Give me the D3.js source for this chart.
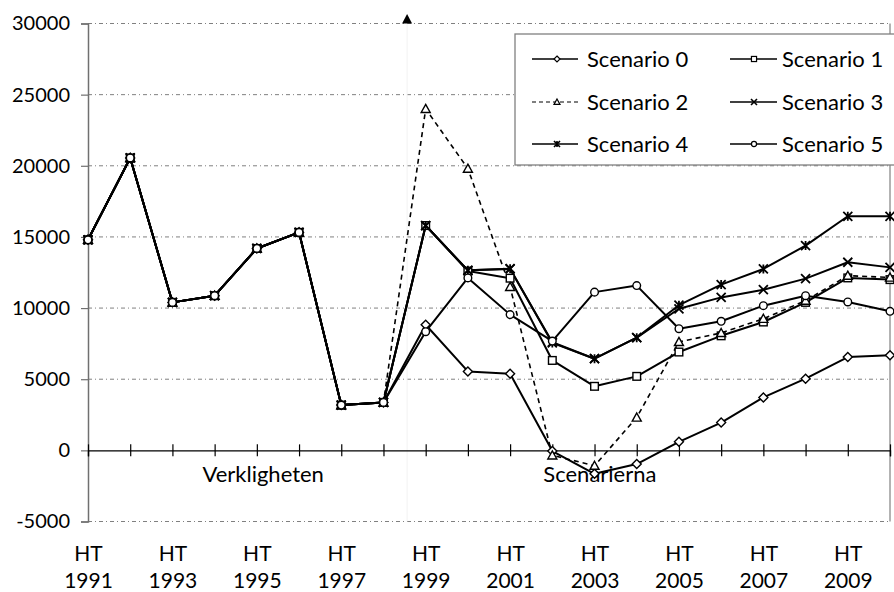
<!DOCTYPE html>
<html>
<head>
<meta charset="utf-8">
<script src="https://cdn.jsdelivr.net/npm/d3@7"></script>
<style>
  body { margin: 0; background: #fff; }
  text { font-family: Lato, "Open Sans", sans-serif; fill: #000; }
</style>
</head>
<body>
<svg id="chart" width="894" height="592"></svg>
<script>
// ---------- data ----------
const categories = ["HT 1991","HT 1992","HT 1993","HT 1994","HT 1995","HT 1996","HT 1997","HT 1998","HT 1999","HT 2000",
                    "HT 2001","HT 2002","HT 2003","HT 2004","HT 2005","HT 2006","HT 2007","HT 2008","HT 2009","HT 2010"];
const labelledCategories = ["HT 1991","HT 1993","HT 1995","HT 1997","HT 1999","HT 2001","HT 2003","HT 2005","HT 2007","HT 2009"];
const yTicks = [-5000, 0, 5000, 10000, 15000, 20000, 25000, 30000];

const seriesNames = ["Scenario 0","Scenario 1","Scenario 2","Scenario 3","Scenario 4","Scenario 5"];
const scenario0 = [14800,20550,10400,10870,14190,15320,3180,3370, 8830,5550,5390,-50,-1650,-960,600,1950,3720,5040,6560,6680];
const scenario1 = [14800,20550,10400,10870,14190,15320,3180,3370, 15800,12600,12100,6320,4500,5200,6910,8050,9020,10400,12120,12000];
const scenario2 = [14800,20550,10400,10870,14190,15320,3180,3370, 24000,19800,11490,-350,-1080,2310,7620,8250,9250,10520,12280,12150];
const scenario3 = [14800,20550,10400,10870,14190,15320,3180,3370, 15800,12650,12750,7600,6440,7920,9950,10750,11290,12070,13220,12860];
const scenario4 = [14800,20550,10400,10870,14190,15320,3180,3370, 15800,12650,12770,7550,6440,7920,10200,11650,12750,14390,16450,16450];
const scenario5 = [14800,20550,10400,10870,14190,15320,3180,3370, 8340,12120,9540,7680,11120,11580,8550,9070,10170,10870,10430,9770];
const allSeries = [scenario0, scenario1, scenario2, scenario3, scenario4, scenario5];
const markerTypes = ["diamond","square","triangle","x","asterisk","circle"];
const dashed = [false,false,true,false,false,false];

const annotations = [
  {text: "Verkligheten", cat: "HT 1993", dx: 30, value: -2200},
  {text: "Scenarierna", cat: "HT 2002", dx: -9, value: -2200}
];
const dividerBetween = ["HT 1998","HT 1999"];

// ---------- layout ----------
const svg = d3.select("#chart");
const pLeft = 88, pRight = 890, pTop = 23.5, pBottom = 521.5;
const x = d3.scalePoint().domain(categories).range([pLeft, pRight]);
const y = d3.scaleLinear().domain([-5000, 30000]).range([pBottom, pTop]);

// gridlines
svg.append("g").selectAll("line")
  .data(yTicks.filter(v => v !== 0))
  .join("line")
  .attr("x1", pLeft).attr("x2", pRight)
  .attr("y1", d => y(d)).attr("y2", d => y(d))
  .attr("stroke", "#808080").attr("stroke-width", 1)
  .attr("stroke-dasharray", "4,3,1,3");

// faint divider between reality and scenarios
const divX = (x(dividerBetween[0]) + x(dividerBetween[1])) / 2 + 2.5;
svg.append("line")
  .attr("x1", divX).attr("x2", divX).attr("y1", pTop).attr("y2", pBottom)
  .attr("stroke", "#f2f2f2").attr("stroke-width", 1);
svg.append("path")
  .attr("d", `M${divX - 5},${pTop} L${divX + 5},${pTop} L${divX},${pTop - 9.5} Z`)
  .attr("fill", "#000");

// right border
svg.append("line")
  .attr("x1", pRight).attr("x2", pRight).attr("y1", pTop).attr("y2", pBottom)
  .attr("stroke", "#808080").attr("stroke-width", 1.2);

// y axis
const yAxis = svg.append("g")
  .attr("transform", `translate(${pLeft},0)`)
  .call(d3.axisLeft(y).tickValues(yTicks).tickSize(7).tickPadding(11).tickFormat(d => String(d)));
yAxis.select(".domain").attr("stroke", "#707070").attr("stroke-width", 1.5);
yAxis.selectAll(".tick line").attr("stroke", "#707070").attr("stroke-width", 1.2);
yAxis.selectAll("text").style("font-size", "20px").attr("fill", "#000");

// x axis (at zero)
const xAxis = svg.append("g")
  .attr("transform", `translate(0,${y(0)})`)
  .call(d3.axisBottom(x).tickSize(6).tickFormat(""));
xAxis.select(".domain").attr("stroke", "#000").attr("stroke-width", 1.3);
xAxis.selectAll(".tick line").attr("y1", -6).attr("y2", 6).attr("stroke", "#000").attr("stroke-width", 1.2);

// x labels (bottom)
const xLab = svg.append("g")
  .attr("transform", `translate(0,${pBottom})`)
  .call(d3.axisBottom(x).tickValues(labelledCategories).tickSize(0));
xLab.select(".domain").remove();
xLab.selectAll(".tick text").each(function(d) {
  const t = d3.select(this);
  const parts = d.split(" ");
  t.text(null).attr("y", 0).attr("dy", null).style("font-size", "21px");
  t.append("tspan").attr("x", 0).attr("y", 39.5).text(parts[0]);
  t.append("tspan").attr("x", 0).attr("y", 66).text(parts[1]);
});

// annotations
svg.append("g").selectAll("text")
  .data(annotations).join("text")
  .attr("x", d => x(d.cat) + d.dx)
  .attr("y", d => y(d.value))
  .style("font-size", "22px")
  .text(d => d.text);

// ---------- markers ----------
function drawMarker(g, type, cx, cy, s, sw) {
  if (type === "diamond") {
    g.append("path").attr("d", `M${cx},${cy - s} L${cx + s},${cy} L${cx},${cy + s} L${cx - s},${cy} Z`)
      .attr("fill", "#fff").attr("stroke", "#000").attr("stroke-width", sw);
  } else if (type === "square") {
    g.append("rect").attr("x", cx - s * 0.85).attr("y", cy - s * 0.85).attr("width", s * 1.7).attr("height", s * 1.7)
      .attr("fill", "#fff").attr("stroke", "#000").attr("stroke-width", sw);
  } else if (type === "triangle") {
    g.append("path").attr("d", `M${cx},${cy - s} L${cx + s},${cy + s * 0.8} L${cx - s},${cy + s * 0.8} Z`)
      .attr("fill", "#fff").attr("stroke", "#000").attr("stroke-width", sw);
  } else if (type === "circle") {
    g.append("circle").attr("cx", cx).attr("cy", cy).attr("r", s * 0.85)
      .attr("fill", "#fff").attr("stroke", "#000").attr("stroke-width", sw);
  } else if (type === "x") {
    g.append("path").attr("d", `M${cx - s},${cy - s} L${cx + s},${cy + s} M${cx - s},${cy + s} L${cx + s},${cy - s}`)
      .attr("stroke", "#000").attr("stroke-width", sw + 0.4);
  } else if (type === "asterisk") {
    g.append("path").attr("d", `M${cx - s},${cy - s} L${cx + s},${cy + s} M${cx - s},${cy + s} L${cx + s},${cy - s} M${cx},${cy - s} L${cx},${cy + s}`)
      .attr("stroke", "#000").attr("stroke-width", sw + 0.4);
  }
}

const line = d3.line().x((d, i) => x(categories[i])).y(d => y(d));
const linesG = svg.append("g");
allSeries.forEach((vals, si) => {
  linesG.append("path")
    .attr("d", line(vals))
    .attr("fill", "none")
    .attr("stroke", "#000")
    .attr("stroke-width", dashed[si] ? 1.6 : 2)
    .attr("stroke-dasharray", dashed[si] ? "5,4" : null)
    .attr("stroke-linejoin", "round");
});
const markG = svg.append("g");
allSeries.forEach((vals, si) => {
  vals.forEach((v, i) => drawMarker(markG, markerTypes[si], x(categories[i]), y(v), 4.5, 1.4));
});

// ---------- legend ----------
const lg = svg.append("g");
lg.append("rect").attr("x", 515).attr("y", 34).attr("width", 400).attr("height", 131)
  .attr("fill", "#fff").attr("stroke", "#808080").attr("stroke-width", 1.3);
const legendRows = [59, 102, 144];
const legendCols = [{l0: 532, l1: 578, m: 557, t: 587}, {l0: 730, l1: 777, m: 754, t: 782}];
seriesNames.forEach((name, si) => {
  const row = Math.floor(si / 2), col = si % 2;
  const c = legendCols[col], ry = legendRows[row];
  lg.append("line").attr("x1", c.l0).attr("x2", c.l1).attr("y1", ry).attr("y2", ry)
    .attr("stroke", "#000").attr("stroke-width", dashed[si] ? 1.1 : 1.5)
    .attr("stroke-dasharray", dashed[si] ? "4,3" : null);
  drawMarker(lg, markerTypes[si], c.m, ry, 3, 1.2);
  lg.append("text").attr("x", c.t).attr("y", ry).attr("dy", "0.36em")
    .style("font-size", "22px").text(name);
});
</script>
</body>
</html>
